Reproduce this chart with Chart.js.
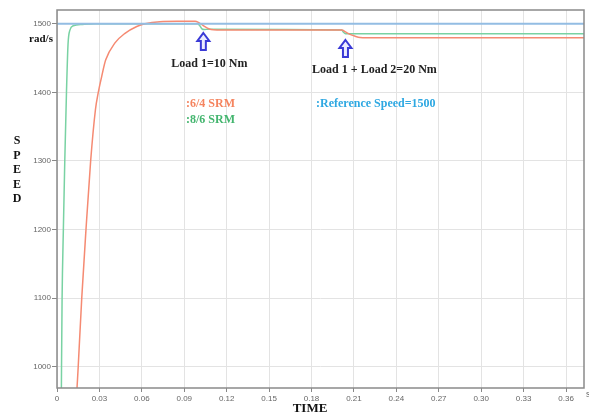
<!DOCTYPE html>
<html>
<head>
<meta charset="utf-8">
<script src="https://cdn.jsdelivr.net/npm/chart.js@4.4.1/dist/chart.umd.min.js"></script>
<style>
  html, body { margin: 0; padding: 0; background: #fff; }
</style>
</head>
<body>
<canvas id="speedchart" width="589" height="417"></canvas>
<script>
// axis ticks
let timeTicks = [0, 0.03, 0.06, 0.09, 0.12, 0.15, 0.18, 0.21, 0.24, 0.27, 0.30, 0.33, 0.36]
let speedTicks = [1000, 1100, 1200, 1300, 1400, 1500]

// 6/4 SRM (red)
let srm64Time  = [0, 0.0125, 0.015, 0.0175, 0.0205, 0.0238, 0.0272, 0.0292, 0.0316, 0.0344, 0.041, 0.0481, 0.0564, 0.0622, 0.0728, 0.085, 0.0976, 0.1, 0.103, 0.106, 0.109, 0.113, 0.2015, 0.204, 0.2072, 0.2105, 0.2143, 0.225, 0.3727]
let srm64Speed = [0, 900, 1000, 1100, 1200, 1300, 1375, 1400, 1423, 1447, 1472, 1486, 1496, 1500, 1503, 1503.5, 1503.5, 1502, 1498, 1494, 1491.5, 1491, 1491, 1488, 1484.4, 1482, 1480, 1479.5, 1479.5]

// 8/6 SRM (green)
let srm86Time  = [0, 0.0032, 0.0036, 0.0045, 0.0055, 0.0067, 0.0078, 0.0092, 0.0115, 0.018, 0.027, 0.0995, 0.101, 0.1025, 0.104, 0.107, 0.2013, 0.2025, 0.204, 0.206, 0.3727]
let srm86Speed = [0, 1000, 1100, 1200, 1300, 1400, 1470, 1491, 1497, 1499, 1500, 1500, 1497, 1492.5, 1491.5, 1492, 1491, 1488, 1485.5, 1485.5, 1485.5]

// reference speed
let refTime  = [0, 0.3727]
let refSpeed = [1500, 1500]

// load step annotations
let loadTimes  = [0.1035, 0.204]
let loadLabels = ['Load 1=10 Nm', 'Load 1 + Load 2=20 Nm']

function toPoints(ts, vs) {
  return ts.map((t, i) => ({x: t, y: vs[i]}))
}

function drawUpArrow(ctx, cx, top, bottom) {
  ctx.save()
  ctx.beginPath()
  ctx.moveTo(cx, top)
  ctx.lineTo(cx + 6, top + 8)
  ctx.lineTo(cx + 2.5, top + 8)
  ctx.lineTo(cx + 2.5, bottom)
  ctx.lineTo(cx - 2.5, bottom)
  ctx.lineTo(cx - 2.5, top + 8)
  ctx.lineTo(cx - 6, top + 8)
  ctx.closePath()
  ctx.fillStyle = '#ececff'
  ctx.fill()
  ctx.lineWidth = 2
  ctx.strokeStyle = '#3a3ad6'
  ctx.stroke()
  ctx.restore()
}

const overlay = {
  id: 'overlay',
  afterDraw(chart) {
    const ctx = chart.ctx
    const area = chart.chartArea
    const xs = chart.scales.x

    // plot frame
    ctx.save()
    ctx.strokeStyle = '#8a8a8a'
    ctx.lineWidth = 1.5
    ctx.strokeRect(area.left, area.top, area.right - area.left, area.bottom - area.top)

    // load arrows + labels
    ctx.fillStyle = '#222'
    ctx.font = 'bold 12px "Liberation Serif"'
    ctx.textAlign = 'center'
    ctx.textBaseline = 'middle'
    drawUpArrow(ctx, xs.getPixelForValue(loadTimes[0]), 33, 50)
    drawUpArrow(ctx, xs.getPixelForValue(loadTimes[1]), 40, 57)
    ctx.fillText(loadLabels[0], xs.getPixelForValue(loadTimes[0]) + 6, 64)
    ctx.fillText(loadLabels[1], xs.getPixelForValue(loadTimes[1]) + 29, 70)

    // series labels
    ctx.textAlign = 'left'
    ctx.fillStyle = '#f5845f'
    ctx.fillText(':6/4 SRM', 186, 104)
    ctx.fillStyle = '#43b56e'
    ctx.fillText(':8/6 SRM', 186, 120)
    ctx.fillStyle = '#2ea8e2'
    ctx.fillText(':Reference Speed=1500', 316, 104)

    // axis titles
    ctx.fillStyle = '#111'
    ctx.textAlign = 'center'
    ctx.font = 'bold 11px "Liberation Serif"'
    ctx.fillText('rad/s', 41, 39)
    ctx.font = 'bold 12px "Liberation Serif"'
    'SPEED'.split('').forEach((c, i) => ctx.fillText(c, 17, 141 + i * 14.5))
    ctx.font = 'bold 13px "Liberation Serif"'
    ctx.fillText('TIME', 310, 409)
    ctx.fillStyle = '#666'
    ctx.font = '9px "Liberation Sans"'
    ctx.textAlign = 'left'
    ctx.fillText('s', area.right + 2, 395)
    ctx.restore()
  }
}

new Chart(document.getElementById('speedchart'), {
  type: 'line',
  data: {
    datasets: [
      {
        label: 'Reference Speed',
        data: toPoints(refTime, refSpeed),
        borderColor: '#93bde3',
        borderWidth: 2,
        pointRadius: 0
      },
      {
        label: '6/4 SRM',
        data: toPoints(srm64Time, srm64Speed),
        borderColor: '#f58a72',
        borderWidth: 1.5,
        pointRadius: 0,
        cubicInterpolationMode: 'monotone'
      },
      {
        label: '8/6 SRM',
        data: toPoints(srm86Time, srm86Speed),
        borderColor: '#79d2a3',
        borderWidth: 1.5,
        pointRadius: 0,
        cubicInterpolationMode: 'monotone'
      }
    ]
  },
  options: {
    responsive: false,
    animation: false,
    layout: { padding: { top: 10, right: 5, left: 0, bottom: 0 } },
    plugins: { legend: { display: false }, tooltip: { enabled: false } },
    scales: {
      x: {
        type: 'linear',
        min: 0,
        max: 0.3727,
        afterBuildTicks: scale => { scale.ticks = timeTicks.map(v => ({value: v})) },
        afterFit: scale => { scale.height = 29 },
        ticks: {
          autoSkip: false,
          maxRotation: 0,
          padding: 2,
          color: '#666',
          font: { family: 'Liberation Sans', size: 8 },
          callback: v => v === 0 ? '0' : v.toFixed(2)
        },
        grid: { color: '#e3e3e3', tickLength: 4, tickColor: '#888' },
        border: { display: false }
      },
      y: {
        min: 969,
        max: 1520,
        afterBuildTicks: scale => { scale.ticks = speedTicks.map(v => ({value: v})) },
        afterFit: scale => { scale.width = 57 },
        ticks: {
          padding: 1,
          color: '#666',
          font: { family: 'Liberation Sans', size: 8 },
          callback: v => String(v)
        },
        grid: { color: '#e3e3e3', tickLength: 5, tickColor: '#888' },
        border: { display: false }
      }
    }
  },
  plugins: [overlay]
})
</script>
</body>
</html>
